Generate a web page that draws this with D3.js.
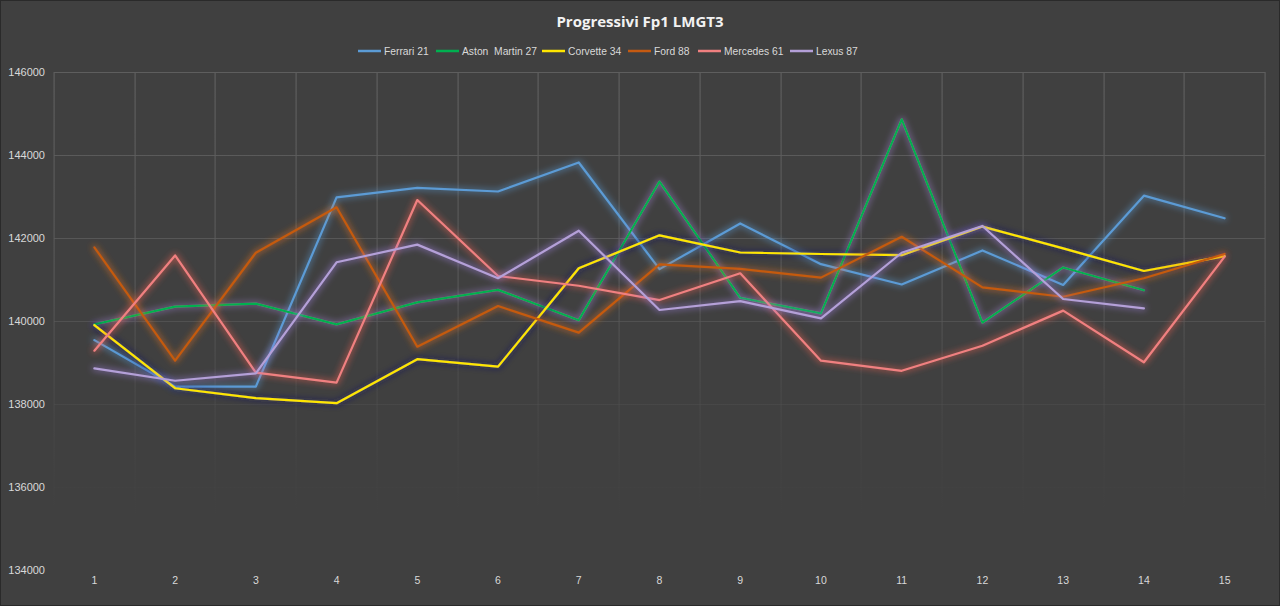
<!DOCTYPE html>
<html><head><meta charset="utf-8">
<script src="https://cdn.jsdelivr.net/npm/d3@7"></script>
<style>
html,body{margin:0;padding:0;background:#404040;}
svg{display:block;}
</style></head>
<body>
<svg id="chart" width="1280" height="606"></svg>
<script>
const categories = [1,2,3,4,5,6,7,8,9,10,11,12,13,14,15];
const yTicks = [134000,136000,138000,140000,142000,144000,146000];
const ferrari21 = [139540,138420,138420,142980,143210,143120,143820,141250,142350,141370,140880,141700,140870,143020,142475];
const astonMartin27 = [139920,140345,140420,139920,140450,140750,140020,143360,140560,140185,144860,139960,141290,140740,null];
const corvette34 = [139900,138380,138140,138020,139080,138900,141270,142065,141650,141615,141585,142275,141750,141205,141565];
const ford88 = [141775,139045,141645,142740,139380,140360,139720,141365,141255,141045,142030,140810,140585,141030,141615];
const mercedes61 = [139285,141580,138755,138515,142915,141085,140850,140505,141150,139045,138800,139405,140250,139005,141550];
const lexus87 = [138860,138560,138740,141415,141840,141030,142175,140265,140480,140065,141645,142290,140530,140305,null];

const series = [
  {name:"Ferrari 21", values:ferrari21, color:"#5B9BD5", glow:"#5B9BD5"},
  {name:"Aston  Martin 27", values:astonMartin27, color:"#00B050", glow:"#9c7fd0"},
  {name:"Corvette 34", values:corvette34, color:"#FFE600", glow:"#1a1a66"},
  {name:"Ford 88", values:ford88, color:"#C55A11", glow:"#E07020"},
  {name:"Mercedes 61", values:mercedes61, color:"#F08080", glow:"#F06050"},
  {name:"Lexus 87", values:lexus87, color:"#B4A0D8", glow:"#A080E0"}
];

const svg = d3.select("#chart");
const W = 1280, H = 606;
const m = {left:54, right:1265, top:72, bottom:570};

svg.append("rect").attr("width",W).attr("height",H).attr("fill","#404040");
svg.append("rect").attr("x",0.5).attr("y",0.5).attr("width",W-1).attr("height",H-1)
  .attr("fill","none").attr("stroke","#2a2a2a");

const defs = svg.append("defs");
const grad = defs.append("linearGradient").attr("id","gridFade")
  .attr("gradientUnits","userSpaceOnUse").attr("x1",0).attr("y1",m.top).attr("x2",0).attr("y2",m.bottom);
grad.append("stop").attr("offset","0%").attr("stop-color","#5e5e5e").attr("stop-opacity",1);
grad.append("stop").attr("offset","45%").attr("stop-color","#5a5a5a").attr("stop-opacity",0.8);
grad.append("stop").attr("offset","90%").attr("stop-color","#4a4a4a").attr("stop-opacity",0);

series.forEach((s,i)=>{
  const f = defs.append("filter").attr("id","glow"+i)
    .attr("x","-20%").attr("y","-20%").attr("width","140%").attr("height","140%");
  f.append("feMorphology").attr("in","SourceAlpha").attr("operator","dilate").attr("radius",1).attr("result","d");
  f.append("feGaussianBlur").attr("in","d").attr("stdDeviation",3).attr("result","b");
  f.append("feFlood").attr("flood-color",s.glow).attr("flood-opacity",0.55).attr("result","c");
  f.append("feComposite").attr("in","c").attr("in2","b").attr("operator","in").attr("result","g");
  const mg = f.append("feMerge");
  mg.append("feMergeNode").attr("in","g");
  mg.append("feMergeNode").attr("in","SourceGraphic");
});

const x = d3.scaleBand().domain(categories).range([m.left,m.right]);
const y = d3.scaleLinear().domain([134000,146000]).range([m.bottom,m.top]);

// gridlines
const grid = svg.append("g");
grid.selectAll("line.h").data(yTicks.slice(1)).join("line")
  .attr("x1",m.left).attr("x2",m.right)
  .attr("y1",d=>Math.round(y(d))+0.5).attr("y2",d=>Math.round(y(d))+0.5)
  .attr("stroke","url(#gridFade)").attr("stroke-width",1);
const vx = categories.map(c=>x(c)).concat([m.right]);
vx.forEach(v=>{
  grid.append("rect").attr("x",Math.round(v)-0.5).attr("y",m.top).attr("width",1.2).attr("height",m.bottom-m.top)
    .attr("fill","url(#gridFade)");
});
grid.append("line").attr("x1",m.left).attr("x2",m.right).attr("y1",m.top+0.5).attr("y2",m.top+0.5)
  .attr("stroke","#5e5e5e");

// axes
const yAxis = d3.axisLeft(y).tickValues(yTicks).tickSize(0).tickPadding(8).tickFormat(d3.format("d"));
const gy = svg.append("g").attr("transform",`translate(${m.left},0)`).call(yAxis);
gy.select(".domain").remove();
gy.selectAll("text").attr("fill","#d9d9d9").style("font-family","'Liberation Sans', Arial, sans-serif").style("font-size","11px")
  .attr("x",-9);

const xAxis = d3.axisBottom(x).tickSize(0).tickPadding(0);
const gx = svg.append("g").attr("transform",`translate(0,${m.bottom+7})`).call(xAxis);
gx.select(".domain").remove();
gx.selectAll("text").attr("fill","#d9d9d9").style("font-family","'Liberation Sans', Arial, sans-serif").style("font-size","10.5px");

// lines
const line = d3.line().defined(d=>d.v!=null).x(d=>x(d.c)+x.bandwidth()/2).y(d=>y(d.v));
const lg = svg.append("g");
series.forEach((s,i)=>{
  const data = categories.map((c,j)=>({c:c, v:s.values[j]}));
  lg.append("path").datum(data).attr("d",line)
    .attr("fill","none").attr("stroke",s.color).attr("stroke-width",2.2)
    .attr("stroke-linejoin","round").attr("stroke-linecap","round")
    .attr("filter",`url(#glow${i})`);
});

// title
svg.append("text").attr("x",640).attr("y",27).attr("text-anchor","middle")
  .attr("fill","#f2f2f2").style("font-family","'Open Sans', 'Liberation Sans', sans-serif")
  .style("font-weight","bold").style("font-size","15px").text("Progressivi Fp1 LMGT3");

// legend
const legendX = [358,436,542,628,698,790];
const leg = svg.append("g");
series.forEach((s,i)=>{
  const g = leg.append("g").attr("transform",`translate(${legendX[i]},51)`);
  g.append("line").attr("x1",0).attr("x2",23).attr("y1",0).attr("y2",0)
    .attr("stroke",s.color).attr("stroke-width",2.5);
  g.append("text").attr("x",26).attr("y",4).attr("fill","#d9d9d9")
    .style("font-family","'Liberation Sans', Arial, sans-serif").style("font-size","10.3px")
    .attr("xml:space","preserve").style("white-space","pre").text(s.name);
});
</script>
</body></html>
